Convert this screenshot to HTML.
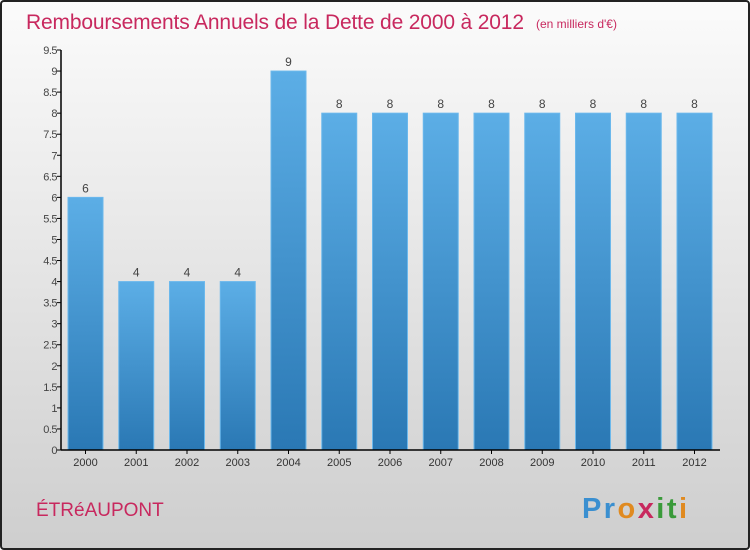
<!DOCTYPE html>
<html><head><meta charset="utf-8"><style>
body{margin:0;width:750px;height:550px;overflow:hidden}
svg{display:block;font-family:"Liberation Sans",sans-serif}
</style></head><body>
<svg width="750" height="550">
<defs>
<linearGradient id="bg" x1="0" y1="0" x2="0" y2="1"><stop offset="0" stop-color="#fbfbfb"/><stop offset="1" stop-color="#cecece"/></linearGradient>
<linearGradient id="bar" x1="0" y1="0" x2="0" y2="1"><stop offset="0" stop-color="#5caee6"/><stop offset="1" stop-color="#2a78b4"/></linearGradient>
</defs>
<rect x="1" y="1" width="748" height="548" fill="url(#bg)" stroke="#222" stroke-width="2" rx="3"/>
<text x="26" y="29" font-size="21" fill="#c8285e" textLength="498">Remboursements Annuels de la Dette de 2000 à 2012</text>
<text x="536" y="28" font-size="12" fill="#c8285e">(en milliers d'€)</text>
<g id="plot"></g>
<text x="36" y="516" font-size="19" fill="#c8285e">ÉTRéAUPONT</text>
<text x="582" y="518" font-size="29" font-weight="bold" textLength="105"><tspan fill="#3a8fd0">Pr</tspan><tspan fill="#e08a20">o</tspan><tspan fill="#c8285e">x</tspan><tspan fill="#3a9a3a">it</tspan><tspan fill="#e08a20">i</tspan></text>
</svg>
<script>
const years=["2000","2001","2002","2003","2004","2005","2006","2007","2008","2009","2010","2011","2012"];
const values=[6,4,4,4,9,8,8,8,8,8,8,8,8];
const ticks=[0,0.5,1,1.5,2,2.5,3,3.5,4,4.5,5,5.5,6,6.5,7,7.5,8,8.5,9,9.5];
const NS="http://www.w3.org/2000/svg";
const g=document.getElementById('plot');
const y0=450,yTop=50,ymax=9.5,x0=61,step=50.75,bw=35,bx0=68;
const Y=v=>y0-(v/ymax)*(y0-yTop);
const X=i=>bx0+i*step;
function mk(t,a){const e=document.createElementNS(NS,t);for(const k in a)e.setAttribute(k,a[k]);g.appendChild(e);return e;}
values.forEach((v,i)=>{
 const r=mk('rect',{x:X(i),y:Y(v),width:bw,height:y0-Y(v),fill:'url(#bar)',stroke:'#6bb8ec','stroke-width':1});
 
 
 const t=mk('text',{x:X(i)+bw/2,y:Y(v)-5,'font-size':12,fill:'#444','text-anchor':'middle'});
 t.textContent=v;
 
 
 const l=mk('text',{x:X(i)+bw/2,y:y0+16,'font-size':11,fill:'#333','text-anchor':'middle'});
 l.textContent=years[i];
 
 
 const tk=mk('line',{x1:X(i)+bw/2,x2:X(i)+bw/2,y1:y0,y2:y0+4,stroke:'#000'});
 
 
});
ticks.forEach(v=>{
 const l=mk('line',{x1:x0-4,x2:x0,y1:Y(v),y2:Y(v),stroke:'#000'});
 
 
 const t=mk('text',{x:x0-4,y:Y(v)+4,'font-size':11,fill:'#444','text-anchor':'end','letter-spacing':'-0.5'});
 t.textContent=v;
 
 
});
const ya=mk('line',{x1:x0,x2:x0,y1:yTop,y2:y0,stroke:'#000','stroke-width':1.5});


const xa=mk('line',{x1:x0,x2:720,y1:y0,y2:y0,stroke:'#000','stroke-width':1.5});


</script>
</body></html>
